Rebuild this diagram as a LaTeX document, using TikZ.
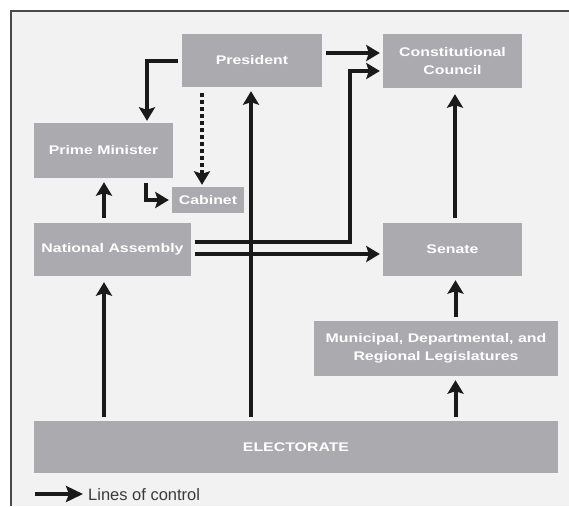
\documentclass[tikz,border=0pt]{standalone}
\usepackage{fontspec}
\setmainfont{Liberation Sans}
\newfontfamily\boxfont[FakeStretch=1.27]{Liberation Sans}
\usetikzlibrary{arrows.meta,calc}
\definecolor{boxc}{HTML}{ABABAF}
\definecolor{bgin}{HTML}{F2F2F2}
\definecolor{framec}{HTML}{4A4A4A}
\definecolor{linec}{HTML}{1A1A1A}
\definecolor{legc}{HTML}{3A3A3A}
\tikzset{
  govbox/.style={fill=boxc, text=white, font=\boxfont\bfseries\fontsize{12.5}{18.5}\selectfont,
    align=center, inner sep=0pt},
  ctl/.style={draw=linec, line width=4pt, line join=miter,
    -{Stealth[length=13.5pt,width=16pt,inset=2.5pt]}},
  dotctl/.style={ctl, dash pattern=on 3.5pt off 3.5pt},
}
\begin{document}
\begin{tikzpicture}[x=1pt,y=-1pt]
\useasboundingbox (0,0) rectangle (569,506);
\fill[white] (0,0) rectangle (569,506);
\fill[bgin] (11,11) rectangle (569,506);
\draw[framec, line width=1.5pt] (11,506) -- (11,11) -- (569,11);

\node[govbox, minimum width=140pt, minimum height=53pt] (pres) at (252,60.5) {President};
\node[govbox, minimum width=139pt, minimum height=54pt] (cc) at (452.5,61) {Constitutional\\Council};
\node[govbox, minimum width=139pt, minimum height=55pt] (pm) at (103.5,150.5) {Prime Minister};
\node[govbox, minimum width=72pt, minimum height=26pt] (cab) at (208,200) {Cabinet};
\node[govbox, minimum width=157pt, minimum height=53pt] (na) at (112.5,249.5) {National Assembly};
\node[govbox, minimum width=139pt, minimum height=53pt] (sen) at (452.5,249.5) {Senate};
\node[govbox, minimum width=244pt, minimum height=55pt] (muni) at (436,348.5) {Municipal, Departmental, and\\Regional Legislatures};
\node[govbox, minimum width=524pt, minimum height=52pt] (elec) at (296,447) {ELECTORATE};

% President -> Prime Minister
\draw[ctl, shorten <=4pt, shorten >=2pt] (pres.west) -| ($(pm.north)+(43.5,0)$);
% President -> Cabinet (dotted)
\draw[dotctl, shorten <=6pt, shorten >=2pt] ($(pres.south)+(-50,0)$) -- ($(cab.north)+(-6,0)$);
% Prime Minister -> Cabinet
\draw[ctl, shorten <=5pt, shorten >=3pt] ($(pm.south)+(42.5,0)$) |- (cab.west);
% National Assembly -> Prime Minister
\draw[ctl, shorten <=5pt, shorten >=4pt] ($(na.north)+(-8.5,0)$) -- ($(pm.south)+(0.5,0)$);
% Electorate -> National Assembly
\draw[ctl, shorten <=4pt, shorten >=6pt] ($(elec.north)+(-192,0)$) -- ($(na.south)+(-8.5,0)$);
% Electorate -> President
\draw[ctl, shorten <=4pt, shorten >=4pt] ($(elec.north)+(-45,0)$) -- ($(pres.south)+(-1,0)$);
% Electorate -> Municipal
\draw[ctl, shorten <=4pt, shorten >=4pt] ($(elec.north)+(159.5,0)$) -- ($(muni.south)+(19.5,0)$);
% Municipal -> Senate
\draw[ctl, shorten <=4pt, shorten >=4pt] ($(muni.north)+(19.5,0)$) -- ($(sen.south)+(3,0)$);
% Senate -> Constitutional Council
\draw[ctl, shorten <=5pt, shorten >=6pt] ($(sen.north)+(2.5,0)$) -- ($(cc.south)+(2.5,0)$);
% President -> Constitutional Council
\draw[ctl, shorten <=4pt, shorten >=3pt] ($(pres.east)+(0,-7.5)$) -- ($(cc.west)+(0,-8)$);
% National Assembly -> Constitutional Council
\draw[ctl, shorten <=4pt, shorten >=3pt] ($(na.east)+(0,-7.5)$) -| ($(cc.west)+(-33,10)$) -- ($(cc.west)+(0,10)$);
% National Assembly -> Senate
\draw[ctl, shorten <=4pt, shorten >=3pt] ($(na.east)+(0,4.5)$) -- ($(sen.west)+(0,4.5)$);

% Legend
\coordinate (legA) at (35,494);
\coordinate (legB) at (83,494);
\draw[draw=linec, line width=4.5pt, -{Stealth[length=17pt,width=16pt,inset=3pt]}] (legA) -- (legB);
\node[anchor=base west, inner sep=0pt, text=legc, font=\fontsize{16.5}{19}\selectfont] (leg) at (88,500) {Lines of control};
\end{tikzpicture}
\end{document}
